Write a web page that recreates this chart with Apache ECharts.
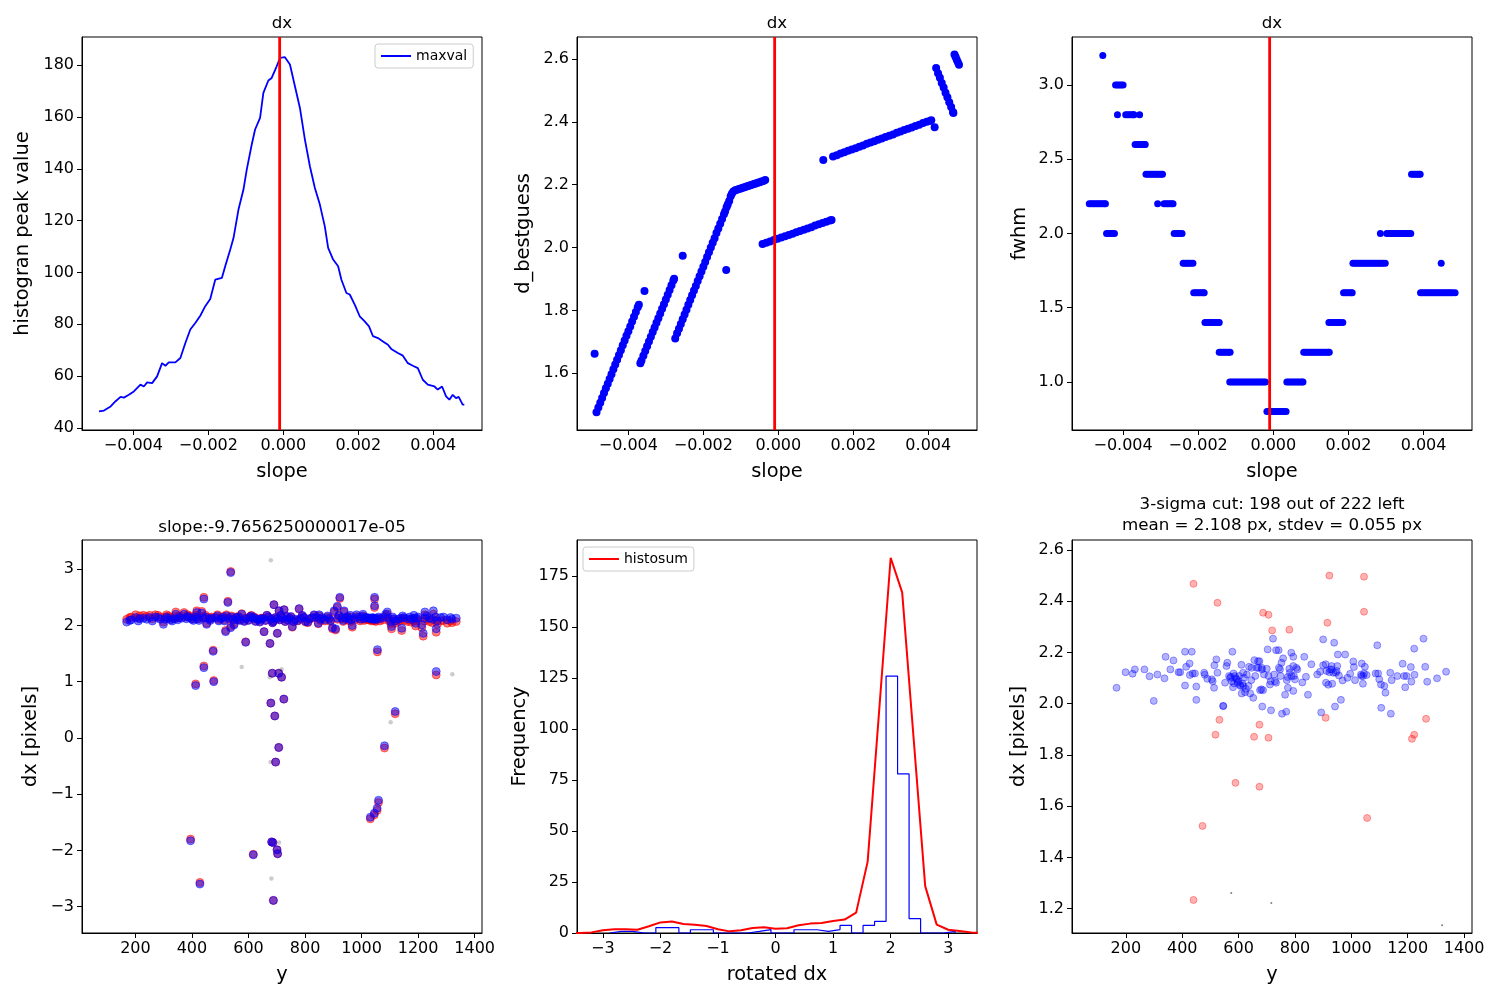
<!DOCTYPE html>
<html>
<head>
<meta charset="utf-8" />
<title>dx slope scan</title>
<script src="https://cdn.jsdelivr.net/npm/echarts@6.0.0/dist/echarts.min.js"></script>
<style>
  body { margin: 0; background: #fff; }
  #main { width: 1500px; height: 1000px; }
</style>
</head>
<body>
<div id="main"></div>
<script>
// best slope (red vertical line, title of the dx plot)
const slopeBest = -9.7656250000017e-05;

// panel 1: histogram peak value vs slope
const peakSlope = [-0.004917, -0.004784, -0.004607, -0.004474, -0.004341, -0.004252, -0.00412, -0.003987, -0.00381, -0.003721,
  -0.003632, -0.003499, -0.003367, -0.003234, -0.003145, -0.003056, -0.002879, -0.002746, -0.002613, -0.002481,
  -0.002348, -0.002215, -0.002082, -0.001949, -0.001816, -0.001639, -0.00155, -0.001417, -0.001329, -0.001196,
  -0.001063, -0.000975, -0.000842, -0.000753, -0.00062, -0.000532, -0.000399, -0.00031, -0.000177, -0.000089,
  0.000044, 0.000177, 0.00031, 0.000443, 0.000576, 0.000709, 0.000842, 0.000975, 0.001107, 0.001196,
  0.001329, 0.001462, 0.00155, 0.001683, 0.001772, 0.001905, 0.002038, 0.002171, 0.002286, 0.002392,
  0.002525, 0.002658, 0.002791, 0.002879, 0.003056, 0.003189, 0.003322, 0.003455, 0.003588, 0.003721,
  0.003854, 0.004031, 0.00412, 0.004235, 0.004341, 0.00443, 0.004518, 0.004607, 0.004678, 0.004784, 0.004828];
const peakVal = [46.4, 46.7, 48.3, 50.3, 52.0, 51.7, 52.8, 54.1, 56.7, 56.0,
  57.6, 57.3, 59.9, 65.0, 64.0, 65.3, 65.3, 67.0, 72.8, 78.0,
  80.5, 83.3, 87.0, 89.8, 97.2, 97.9, 102.4, 108.8, 113.3, 124.3,
  132.0, 139.7, 149.4, 155.2, 159.7, 169.3, 174.1, 175.1, 179.6, 182.8,
  183.1, 180.3, 171.9, 163.5, 151.3, 141.0, 132.6, 126.2, 117.8, 109.5,
  105.0, 102.4, 97.2, 92.1, 91.5, 87.6, 83.1, 81.1, 79.2, 75.4,
  74.7, 73.4, 72.1, 70.5, 68.9, 67.9, 65.0, 64.0, 63.1, 58.6,
  56.7, 56.0, 54.8, 56.0, 52.2, 50.9, 52.8, 51.5, 52.0, 49.0, 49.0];

// panel 2: d_bestguess vs slope
const bestGuess = [
  [-0.0049, 1.662],
  [-0.00485, 1.476], [-0.0048, 1.491], [-0.00475, 1.506], [-0.0047, 1.521], [-0.00465, 1.537], [-0.0046, 1.552],
  [-0.00455, 1.567], [-0.0045, 1.582], [-0.00445, 1.597], [-0.0044, 1.613], [-0.00435, 1.628], [-0.0043, 1.643],
  [-0.00425, 1.658], [-0.0042, 1.673], [-0.00415, 1.689], [-0.0041, 1.704], [-0.00405, 1.719], [-0.004, 1.734],
  [-0.00395, 1.749], [-0.0039, 1.765], [-0.00385, 1.78], [-0.0038, 1.795], [-0.00375, 1.81], [-0.00372, 1.818],
  [-0.00357, 1.862],
  [-0.00368, 1.632], [-0.00365, 1.641], [-0.0036, 1.656], [-0.00355, 1.671], [-0.0035, 1.686], [-0.00345, 1.701],
  [-0.0034, 1.716], [-0.00335, 1.731], [-0.0033, 1.746], [-0.00325, 1.761], [-0.0032, 1.775], [-0.00315, 1.79],
  [-0.0031, 1.805], [-0.00305, 1.82], [-0.003, 1.835], [-0.00295, 1.85], [-0.0029, 1.865], [-0.00285, 1.88],
  [-0.0028, 1.895], [-0.00278, 1.901],
  [-0.00255, 1.974],
  [-0.00275, 1.711], [-0.0027, 1.727], [-0.00265, 1.742], [-0.0026, 1.757], [-0.00255, 1.772], [-0.0025, 1.787],
  [-0.00245, 1.802], [-0.0024, 1.818], [-0.00235, 1.833], [-0.0023, 1.848], [-0.00225, 1.863], [-0.0022, 1.878],
  [-0.00215, 1.894], [-0.0021, 1.909], [-0.00205, 1.924], [-0.002, 1.939], [-0.00195, 1.954], [-0.0019, 1.97],
  [-0.00185, 1.985], [-0.0018, 2.0], [-0.00175, 2.015], [-0.0017, 2.03], [-0.00165, 2.046], [-0.0016, 2.061],
  [-0.00155, 2.076], [-0.0015, 2.091], [-0.00145, 2.106], [-0.00142, 2.115], [-0.00138, 2.128], [-0.00135, 2.137],
  [-0.00131, 2.148], [-0.00127, 2.163], [-0.00124, 2.171], [-0.0012, 2.178],
  [-0.00115, 2.182], [-0.0011, 2.184], [-0.00105, 2.186], [-0.001, 2.188], [-0.00095, 2.19], [-0.0009, 2.192],
  [-0.00085, 2.194], [-0.0008, 2.196], [-0.00075, 2.198], [-0.0007, 2.2], [-0.00065, 2.202], [-0.0006, 2.204],
  [-0.00055, 2.206], [-0.0005, 2.208], [-0.00045, 2.21], [-0.0004, 2.212], [-0.00035, 2.215],
  [-0.00139, 1.929],
  [-0.00042, 2.011], [-0.00032, 2.015], [-0.00022, 2.019], [-0.00012, 2.024], [-0.00002, 2.028], [0.00008, 2.032],
  [0.00018, 2.036], [0.00028, 2.04], [0.00038, 2.044], [0.00048, 2.049], [0.00058, 2.053], [0.00068, 2.057],
  [0.00078, 2.061], [0.00088, 2.065], [0.00098, 2.07], [0.00108, 2.074], [0.00118, 2.078], [0.00128, 2.082],
  [0.00138, 2.086], [0.00142, 2.088],
  [0.0012, 2.279],
  [0.00146, 2.29], [0.00156, 2.294], [0.00166, 2.299], [0.00176, 2.303], [0.00186, 2.308], [0.00196, 2.312],
  [0.00206, 2.316], [0.00216, 2.321], [0.00226, 2.325], [0.00236, 2.33], [0.00246, 2.334], [0.00256, 2.338],
  [0.00266, 2.343], [0.00276, 2.347], [0.00286, 2.352], [0.00296, 2.356], [0.00306, 2.36], [0.00316, 2.365],
  [0.00326, 2.369], [0.00336, 2.374], [0.00346, 2.378], [0.00356, 2.382], [0.00366, 2.387], [0.00376, 2.391],
  [0.00386, 2.396], [0.00396, 2.4], [0.00404, 2.403], [0.00408, 2.405],
  [0.00417, 2.383],
  [0.00421, 2.571], [0.00426, 2.555], [0.00431, 2.54], [0.00436, 2.524], [0.00441, 2.509], [0.00446, 2.493],
  [0.00451, 2.478], [0.00456, 2.462], [0.00461, 2.447], [0.00466, 2.431], [0.00467, 2.428],
  [0.0047, 2.614], [0.00473, 2.606], [0.00476, 2.598], [0.00479, 2.59], [0.00482, 2.582]
];

// panel 3: fwhm vs slope, one row per fwhm level: [fwhm, slopes]
const fwhmRows = [
  [3.2, [-0.00454]],
  [3.0, [-0.0042, -0.00415, -0.0041, -0.00405, -0.004]],
  [2.8, [-0.00415, -0.00393, -0.00388, -0.00383, -0.00378, -0.00373, -0.00371, -0.00356]],
  [2.6, [-0.00368, -0.00363, -0.00358, -0.00353, -0.00348, -0.00343, -0.00341]],
  [2.4, [-0.00339, -0.00334, -0.00329, -0.00324, -0.00319, -0.00314, -0.00309, -0.00304, -0.00299, -0.00295,
         0.00368, 0.00373, 0.00378, 0.00383, 0.00388, 0.00391]],
  [2.2, [-0.0049, -0.00485, -0.0048, -0.00475, -0.0047, -0.00465, -0.0046, -0.00455, -0.0045, -0.00447,
         -0.00308, -0.00291, -0.00286, -0.00281, -0.00276, -0.00271, -0.00267]],
  [2.0, [-0.00444, -0.00439, -0.00434, -0.00429, -0.00423, -0.00264, -0.00259, -0.00254, -0.00249, -0.00243,
         0.00285, 0.00302, 0.00307, 0.00312, 0.00317, 0.00322, 0.00327, 0.00332, 0.00337, 0.00342, 0.00347,
         0.00352, 0.00357, 0.00362, 0.00366]],
  [1.8, [-0.0024, -0.00235, -0.0023, -0.00225, -0.0022, -0.00214,
         0.00212, 0.00217, 0.00222, 0.00227, 0.00232, 0.00237, 0.00242, 0.00247, 0.00252, 0.00257, 0.00262,
         0.00267, 0.00272, 0.00277, 0.00282, 0.00287, 0.00292, 0.00298, 0.00447]],
  [1.6, [-0.00212, -0.00207, -0.00202, -0.00197, -0.00192, -0.00187, -0.00184,
         0.00187, 0.00192, 0.00197, 0.00202, 0.00207, 0.0021,
         0.00392, 0.00397, 0.00402, 0.00407, 0.00412, 0.00417, 0.00422, 0.00427, 0.00432, 0.00437, 0.00442,
         0.00447, 0.00452, 0.00457, 0.00462, 0.00467, 0.00472, 0.00477, 0.00484]],
  [1.4, [-0.00182, -0.00177, -0.00172, -0.00167, -0.00162, -0.00157, -0.00152, -0.00147, -0.00144,
         0.00148, 0.00153, 0.00158, 0.00163, 0.00168, 0.00173, 0.00178, 0.00185]],
  [1.2, [-0.00144, -0.00139, -0.00134, -0.00129, -0.00124, -0.00119, -0.00115,
         0.00081, 0.00086, 0.00091, 0.00096, 0.00101, 0.00106, 0.00111, 0.00116, 0.00121, 0.00126, 0.00131,
         0.00136, 0.00141, 0.00146, 0.00149]],
  [1.0, [-0.00116, -0.00111, -0.00106, -0.00101, -0.00096, -0.00091, -0.00086, -0.00081, -0.00076, -0.00071,
         -0.00066, -0.00061, -0.00056, -0.00051, -0.00046, -0.00041, -0.00036, -0.00031, -0.00026, -0.00021,
         0.00036, 0.00041, 0.00046, 0.00051, 0.00056, 0.00061, 0.00066, 0.00071, 0.00076, 0.00079]],
  [0.8, [-0.00017, -0.00012, -0.00007, -0.00002, 0.00003, 0.00008, 0.00013, 0.00018, 0.00023, 0.00028, 0.00034]]
];

// panel 4: [y, dx raw (red), dx rotated (blue)]
const dxRows = [
  [169, 2.11, 2.06], [201, 2.19, 2.14], [228, 2.18, 2.13], [270, 2.19, 2.15], [288, 2.15, 2.11], [299, 2.06, 2.02],
  [317, 2.17, 2.13], [340, 2.16, 2.12], [343, 2.24, 2.20], [364, 2.16, 2.13], [372, 2.23, 2.20], [390, 2.17, 2.14],
  [413, 2.18, 2.15], [417, 2.26, 2.23], [435, 2.25, 2.22], [425, 2.12, 2.09], [452, 2.04, 2.02], [442, 2.50, 2.47],
  [527, 2.43, 2.41], [484, 2.15, 2.13], [502, 2.14, 2.12], [522, 2.19, 2.17], [519, 1.91, 1.89], [537, 1.98, 1.96],
  [549, 2.03, 2.01], [557, 2.15, 2.14], [576, 2.21, 2.20], [590, 1.71, 1.70], [475, 1.56, 1.54], [614, 2.14, 2.13],
  [637, 2.11, 2.10], [655, 1.89, 1.89], [676, 1.68, 1.68], [690, 2.37, 2.37], [687, 2.07, 2.07], [702, 1.86, 1.86],
  [708, 2.26, 2.26], [726, 2.28, 2.28], [720, 2.13, 2.13], [738, 2.10, 2.10], [755, 1.97, 1.98], [779, 2.29, 2.30],
  [785, 2.12, 2.13], [802, 2.06, 2.07], [832, 2.18, 2.19], [847, 2.03, 2.04], [861, 2.12, 2.14], [885, 2.11, 2.13],
  [897, 1.94, 1.96], [908, 1.92, 1.94], [903, 2.24, 2.26], [914, 2.32, 2.34], [923, 2.48, 2.50], [938, 2.24, 2.26],
  [944, 2.11, 2.13], [962, 2.07, 2.10], [967, 1.97, 2.00], [982, 2.16, 2.19], [1003, 2.13, 2.16], [1029, 2.10, 2.13],
  [1044, 2.10, 2.13], [1050, 2.07, 2.10], [1046, 2.47, 2.50], [1046, 2.32, 2.35], [1056, 1.53, 1.57], [1091, 2.20, 2.24],
  [1095, 2.09, 2.13], [1103, 2.03, 2.07], [1106, 1.94, 1.98], [1121, 2.04, 2.08], [1138, 2.09, 2.13], [1142, 1.91, 1.95],
  [1162, 2.07, 2.12], [1185, 2.13, 2.18], [1185, 2.08, 2.13], [1191, 1.99, 2.04], [1213, 1.96, 2.01], [1218, 1.81, 1.86],
  [1224, 2.19, 2.24], [1224, 2.08, 2.13], [1254, 2.20, 2.26], [1262, 2.09, 2.15], [1268, 2.02, 2.08], [1264, 1.88, 1.94],
  [1303, 2.04, 2.10], [1335, 2.07, 2.13],
  [590, 2.13, 2.12], [600, 2.10, 2.09], [620, 2.15, 2.14], [630, 2.12, 2.11], [645, 2.13, 2.12], [660, 2.09, 2.09],
  [670, 2.15, 2.15], [680, 2.11, 2.11], [695, 2.14, 2.14], [710, 2.10, 2.10], [745, 2.13, 2.13], [765, 2.10, 2.11],
  [1010, 2.09, 2.12], [1020, 2.11, 2.14], [1035, 2.08, 2.11], [1038, 2.11, 2.14], [560, 2.11, 2.10], [530, 2.14, 2.12],
  [460, 2.14, 2.12], [400, 2.14, 2.11], [870, 2.08, 2.10], [955, 2.09, 2.12],
  [185, 2.15, 2.10], [215, 2.17, 2.12], [250, 2.18, 2.14], [305, 2.15, 2.11], [325, 2.14, 2.10], [355, 2.17, 2.14],
  [380, 2.15, 2.12], [405, 2.12, 2.09], [440, 2.16, 2.13], [470, 2.15, 2.13], [495, 2.10, 2.08], [510, 2.16, 2.14],
  [545, 2.12, 2.10], [570, 2.10, 2.09], [605, 2.16, 2.15], [625, 2.08, 2.07], [650, 2.13, 2.12], [700, 2.12, 2.12],
  [730, 2.07, 2.07], [750, 2.15, 2.16], [775, 2.08, 2.09], [795, 2.14, 2.15], [815, 2.11, 2.12], [840, 2.14, 2.15],
  [855, 2.09, 2.11], [880, 2.15, 2.17], [915, 2.11, 2.13], [930, 2.12, 2.14], [950, 2.14, 2.16], [975, 2.10, 2.13],
  [990, 2.12, 2.15], [1015, 2.11, 2.14], [1025, 2.10, 2.13], [1040, 2.09, 2.12], [1060, 2.12, 2.15], [1075, 2.10, 2.14],
  [1110, 2.11, 2.15], [1130, 2.07, 2.11], [1150, 2.09, 2.14], [1175, 2.06, 2.11], [1200, 2.10, 2.15], [1240, 2.07, 2.13],
  [1280, 2.08, 2.14], [1320, 2.05, 2.11], [1042, 2.10, 2.13], [1047, 2.09, 2.12], [1052, 2.10, 2.13],
  [180, 2.14, 2.09], [210, 2.13, 2.08], [240, 2.16, 2.11], [260, 2.12, 2.08], [280, 2.18, 2.14], [310, 2.19, 2.15],
  [330, 2.12, 2.08], [350, 2.13, 2.10], [385, 2.19, 2.16], [420, 2.15, 2.12], [448, 2.18, 2.15], [465, 2.11, 2.09],
  [490, 2.19, 2.17], [515, 2.10, 2.08], [540, 2.17, 2.15], [565, 2.16, 2.15], [585, 2.08, 2.07], [610, 2.18, 2.17],
  [640, 2.07, 2.06], [665, 2.18, 2.18], [685, 2.05, 2.05], [715, 2.18, 2.18], [735, 2.16, 2.16], [760, 2.07, 2.07],
  [790, 2.17, 2.18], [810, 2.05, 2.06], [825, 2.13, 2.14], [850, 2.17, 2.19], [890, 2.07, 2.09], [920, 2.16, 2.18],
  [935, 2.07, 2.09], [960, 2.15, 2.18], [995, 2.08, 2.11], [1005, 2.17, 2.20], [1065, 2.08, 2.12], [1085, 2.16, 2.20],
  [1115, 2.08, 2.12], [1145, 2.13, 2.17], [1170, 2.10, 2.15], [1195, 2.08, 2.13], [1230, 2.11, 2.17], [1250, 2.05, 2.11],
  [1290, 2.09, 2.15], [1315, 2.08, 2.14],
  [537, 2.96, 2.94], [442, 1.28, 1.25], [413, 0.96, 0.93], [477, 1.02, 1.00], [684, 1.15, 1.15], [707, 1.15, 1.15],
  [717, 1.08, 1.08], [679, 0.62, 0.62], [725, 0.69, 0.69], [693, 0.39, 0.39], [1119, 0.43, 0.47], [1081, -0.18, -0.14],
  [707, -0.17, -0.17], [696, -0.43, -0.43], [1060, -1.15, -1.11], [1055, -1.29, -1.25], [1045, -1.37, -1.34],
  [1031, -1.44, -1.41], [1264, 1.12, 1.18], [395, -1.80, -1.83], [686, -1.86, -1.86], [682, -1.85, -1.85],
  [701, -1.99, -1.99], [703, -2.06, -2.06], [617, -2.07, -2.08], [428, -2.57, -2.60], [688, -2.89, -2.89]
];
const dxOther = [[679, 3.16], [576, 1.26], [717, 1.22], [675, 1.08], [1321, 1.13], [1103, 0.28], [678, -0.43], [708, -1.86], [681, -2.50]];

// panel 5: histogram of rotated dx (step) and histosum curve
const binEdges = [-2.88, -2.68, -2.48, -2.28, -2.08, -1.88, -1.68, -1.48, -1.28, -1.08, -0.88, -0.68, -0.48, -0.28, -0.08,
  0.12, 0.32, 0.52, 0.72, 0.92, 1.12, 1.32, 1.52, 1.72, 1.92, 2.12, 2.32, 2.52, 2.72, 2.92, 3.12];
const binCounts = [0.8, 0.8, 0, 0, 2.6, 2.6, 0, 1.6, 1.6, 0, 0, 0, 0.8, 1.7, 0,
  0, 1.6, 1.6, 0.8, 1.7, 3.7, 0, 3.7, 5.7, 126, 78, 7, 0, 0, 0.8];
const sumX = [-3.6, -3.4, -3.2, -3.0, -2.8, -2.6, -2.4, -2.2, -2.0, -1.8, -1.6, -1.4, -1.2, -1.0, -0.8, -0.6, -0.4, -0.2,
  0.0, 0.2, 0.4, 0.6, 0.8, 1.0, 1.2, 1.4, 1.6, 1.8, 2.0, 2.2, 2.4, 2.6, 2.8, 3.0, 3.2, 3.4, 3.6];
const sumY = [0, 0, 0.3, 1.3, 1.8, 1.8, 1.6, 3.3, 5.2, 5.6, 4.4, 4.1, 3.4, 1.8, 0.8, 1.3, 2.5, 2.8,
  2.1, 2.3, 3.8, 4.6, 4.9, 5.9, 6.6, 10, 35, 109, 184, 167, 95, 23, 4.1, 1.6, 1.0, 0.3, 0];

// panel 6: 3-sigma cut
const keptPts = [
  [167, 2.062], [199, 2.123], [224, 2.117], [232, 2.134], [266, 2.134], [284, 2.107], [299, 2.011], [312, 2.114], [337, 2.099], [341, 2.183],
  [358, 2.134], [369, 2.169], [387, 2.123], [393, 2.123], [410, 2.203], [410, 2.071], [414, 2.144], [426, 2.157], [427, 2.112], [434, 2.203],
  [437, 2.118], [445, 2.118], [450, 2.067], [450, 2.015], [478, 2.121], [480, 2.113], [489, 2.097], [505, 2.095], [508, 2.088], [514, 2.150],
  [513, 2.062], [521, 2.173], [525, 2.121], [545, 1.991], [546, 1.991], [552, 2.082], [557, 2.147], [560, 2.160], [566, 2.108], [573, 2.105],
  [578, 2.203], [580, 2.064], [582, 2.118], [587, 2.108], [593, 2.095], [597, 2.082], [602, 2.108], [605, 2.073], [610, 2.152], [611, 2.040],
  [616, 2.121], [617, 2.069], [623, 2.045], [629, 2.114], [637, 2.144], [641, 2.040], [645, 2.092], [652, 2.023], [656, 2.170], [659, 2.108],
  [669, 2.166], [670, 2.140], [674, 2.166], [676, 2.053], [681, 2.056], [683, 2.134], [684, 1.989], [687, 2.053], [690, 2.114], [700, 2.136],
  [703, 2.212], [711, 2.075], [715, 1.974], [722, 2.254], [726, 2.114], [733, 2.209], [733, 2.082], [742, 2.209], [743, 2.140], [747, 2.134],
  [752, 2.160], [754, 1.961], [758, 2.177], [765, 2.035], [769, 1.969], [771, 2.092], [774, 2.104], [775, 2.062], [780, 2.136], [787, 2.199],
  [788, 2.108], [794, 2.183], [794, 2.050], [796, 2.108], [805, 2.140], [808, 2.134], [826, 2.083], [833, 2.183], [839, 2.105], [846, 2.035],
  [858, 2.154], [879, 2.114], [889, 2.125], [893, 1.966], [900, 2.251], [909, 2.154], [910, 2.082], [918, 2.074], [922, 2.123], [924, 2.134],
  [930, 2.147], [932, 2.078], [936, 2.121], [939, 2.238], [942, 1.989], [945, 2.121], [950, 2.147], [952, 2.192], [956, 2.110], [963, 2.015],
  [969, 2.091], [978, 2.192], [986, 2.101], [996, 2.117], [1007, 2.165], [1009, 2.143], [1013, 2.092], [1034, 2.114], [1037, 2.157], [1041, 2.078],
  [1042, 2.108], [1048, 2.144], [1054, 2.112], [1086, 2.118], [1092, 2.228], [1095, 2.118], [1099, 2.095], [1105, 2.075], [1106, 1.984], [1117, 2.069],
  [1121, 2.043], [1138, 2.121], [1140, 1.961], [1143, 2.092], [1163, 2.108], [1182, 2.156], [1187, 2.108], [1191, 2.064], [1196, 2.108], [1211, 2.143],
  [1213, 2.086], [1223, 2.215], [1224, 2.113], [1256, 2.254], [1262, 2.144], [1269, 2.086], [1304, 2.099], [1336, 2.125],
  [570, 2.101], [576, 2.088], [584, 2.079], [591, 2.099], [599, 2.088], [607, 2.069], [614, 2.079], [619, 2.101], [626, 2.058], [635, 2.069],
  [646, 2.140], [664, 2.140], [682, 2.140], [706, 2.108], [714, 2.088], [729, 2.088], [749, 2.108], [782, 2.121], [800, 2.095], [794, 2.147],
  [900, 2.150], [912, 2.128], [1036, 2.108], [1045, 2.118], [930, 2.134], [948, 2.128]
];
const rejectedPts = [
  [440, 2.468], [525, 2.394], [687, 2.355], [706, 2.347], [719, 2.286], [780, 2.289], [922, 2.500], [1045, 2.496],
  [1045, 2.359], [915, 2.316], [909, 1.945], [532, 1.937], [518, 1.879], [655, 1.871], [674, 1.918], [706, 1.867],
  [1265, 1.941], [1223, 1.879], [1215, 1.863], [589, 1.691], [674, 1.676], [1056, 1.554], [472, 1.523], [440, 1.234]
];
const strayPts = [[574, 1.261], [716, 1.222], [1322, 1.135]];

// tick positions
const slopeTicks = [-0.004, -0.002, 0, 0.002, 0.004];
const yTicks = [200, 400, 600, 800, 1000, 1200, 1400];

const FONT = 'DejaVu Sans';
const minus = s => String(s).replace('-', '\u2212');

function axis(gi, min, max, ticks, digits, name, gap) {
  return {
    type: 'value', gridIndex: gi, min: min, max: max,
    name: name, nameLocation: 'middle', nameGap: gap,
    nameTextStyle: { fontFamily: FONT, fontSize: 19.4, color: '#000' },
    axisLine: { show: true, onZero: false, lineStyle: { color: '#000', width: 1 } },
    axisTick: { show: true, length: 5, customValues: ticks, lineStyle: { color: '#000', width: 1 } },
    axisLabel: {
      customValues: ticks, fontFamily: FONT, fontSize: 16, color: '#000', margin: 8,
      formatter: v => minus(Number(v).toFixed(digits))
    },
    splitLine: { show: false }
  };
}

const lefts = [82, 577, 1072];
const tops = [37, 540];
const grids = [];
for (let r = 0; r < 2; r++) {
  for (let c = 0; c < 3; c++) {
    grids.push({ left: lefts[c], top: tops[r], width: 400, height: 393,
      show: true, borderColor: '#000', borderWidth: 1, backgroundColor: 'transparent' });
  }
}

// vertical red line at the best slope, spanning the full y range of a panel
function bestLine(i, yMin, yMax) {
  return {
    name: 'best' + i, type: 'line', xAxisIndex: i, yAxisIndex: i, silent: true,
    data: [[slopeBest, yMin], [slopeBest, yMax]], symbol: 'none',
    lineStyle: { color: '#ff0000', width: 2.8 }, itemStyle: { color: '#ff0000' }, z: 5
  };
}

// step outline of the histogram
const histStep = [[binEdges[0], 0]];
binCounts.forEach((c, i) => {
  histStep.push([binEdges[i], c]);
  histStep.push([binEdges[i + 1], c]);
});
histStep.push([binEdges[binEdges.length - 1], 0]);

const fwhmPts = [];
fwhmRows.forEach(row => row[1].forEach(s => fwhmPts.push([s, row[0]])));

const titleStyle = { fontFamily: FONT, fontSize: 16.7, fontWeight: 'normal', color: '#000', lineHeight: 21 };
const legendBox = {
  orient: 'vertical', backgroundColor: '#fff', borderColor: '#cccccc', borderWidth: 1, borderRadius: 3,
  padding: [5, 6], itemWidth: 30, itemHeight: 2, icon: 'rect',
  textStyle: { fontFamily: FONT, fontSize: 14, color: '#000' }
};

const chart = echarts.init(document.getElementById('main'));
chart.setOption({
  animation: false,
  backgroundColor: '#fff',
  title: [
    { text: 'dx', left: 282, top: 13, textAlign: 'center', padding: 0, textStyle: titleStyle },
    { text: 'dx', left: 777, top: 13, textAlign: 'center', padding: 0, textStyle: titleStyle },
    { text: 'dx', left: 1272, top: 13, textAlign: 'center', padding: 0, textStyle: titleStyle },
    { text: 'slope:-9.7656250000017e-05', left: 282, top: 517, textAlign: 'center', padding: 0, textStyle: titleStyle },
    { text: '3-sigma cut: 198 out of 222 left\nmean = 2.108 px, stdev = 0.055 px', left: 1272, top: 494,
      textAlign: 'center', padding: 0, textStyle: titleStyle }
  ],
  legend: [
    Object.assign({ data: ['maxval'], left: 375, top: 44 }, legendBox),
    Object.assign({ data: ['histosum'], left: 583, top: 547 }, legendBox)
  ],
  grid: grids,
  xAxis: [
    axis(0, -0.00537, 0.0053, slopeTicks, 3, 'slope', 32),
    axis(1, -0.00537, 0.0053, slopeTicks, 3, 'slope', 32),
    axis(2, -0.00536, 0.00529, slopeTicks, 3, 'slope', 32),
    axis(3, 11, 1426, yTicks, 0, 'y', 32),
    axis(4, -3.45, 3.5, [-3, -2, -1, 0, 1, 2, 3], 0, 'rotated dx', 32),
    axis(5, 9, 1428, yTicks, 0, 'y', 32)
  ],
  yAxis: [
    axis(0, 39.2, 190.9, [40, 60, 80, 100, 120, 140, 160, 180], 0, 'histogran peak value', 50),
    axis(1, 1.4195, 2.67, [1.6, 1.8, 2.0, 2.2, 2.4, 2.6], 1, 'd_bestguess', 44),
    axis(2, 0.676, 3.324, [1.0, 1.5, 2.0, 2.5, 3.0], 1, 'fwhm', 43),
    axis(3, -3.47, 3.52, [-3, -2, -1, 0, 1, 2, 3], 0, 'dx [pixels]', 42),
    axis(4, 0, 192.7, [0, 25, 50, 75, 100, 125, 150, 175], 0, 'Frequency', 48),
    axis(5, 1.105, 2.639, [1.2, 1.4, 1.6, 1.8, 2.0, 2.2, 2.4, 2.6], 1, 'dx [pixels]', 44)
  ],
  series: [
    {
      name: 'maxval', type: 'line', xAxisIndex: 0, yAxisIndex: 0,
      data: peakSlope.map((s, i) => [s, peakVal[i]]),
      showSymbol: false, symbol: 'none',
      lineStyle: { color: '#0000ff', width: 1.8 }, itemStyle: { color: '#0000ff' }
    },
    bestLine(0, 39.2, 190.9),
    {
      name: 'd_bestguess', type: 'scatter', xAxisIndex: 1, yAxisIndex: 1,
      data: bestGuess, symbolSize: 8, itemStyle: { color: '#0000ff', opacity: 1 }
    },
    bestLine(1, 1.4195, 2.67),
    {
      name: 'fwhm', type: 'scatter', xAxisIndex: 2, yAxisIndex: 2,
      data: fwhmPts, symbolSize: 7, itemStyle: { color: '#0000ff', opacity: 1 }
    },
    bestLine(2, 0.676, 3.324),
    {
      name: 'dx raw', type: 'scatter', xAxisIndex: 3, yAxisIndex: 3,
      data: dxRows.map(r => [r[0], r[1]]), symbolSize: 8,
      itemStyle: { color: 'rgba(255,0,0,0.5)', borderColor: 'rgba(255,0,0,0.5)', borderWidth: 1, opacity: 1 }
    },
    {
      name: 'dx rotated', type: 'scatter', xAxisIndex: 3, yAxisIndex: 3,
      data: dxRows.map(r => [r[0], r[2]]), symbolSize: 8,
      itemStyle: { color: 'rgba(0,0,255,0.5)', borderColor: 'rgba(0,0,255,0.5)', borderWidth: 1, opacity: 1 }
    },
    {
      name: 'dx other', type: 'scatter', xAxisIndex: 3, yAxisIndex: 3,
      data: dxOther, symbolSize: 4.5, itemStyle: { color: 'rgba(0,0,0,0.2)', opacity: 1 }
    },
    {
      name: 'hist', type: 'line', xAxisIndex: 4, yAxisIndex: 4,
      data: histStep, showSymbol: false, symbol: 'none',
      lineStyle: { color: '#0000ff', width: 1.2 }, itemStyle: { color: '#0000ff' }
    },
    {
      name: 'histosum', type: 'line', xAxisIndex: 4, yAxisIndex: 4,
      data: sumX.map((x, i) => [x, sumY[i]]), showSymbol: false, symbol: 'none',
      lineStyle: { color: '#ff0000', width: 2 }, itemStyle: { color: '#ff0000' }
    },
    {
      name: 'kept', type: 'scatter', xAxisIndex: 5, yAxisIndex: 5,
      data: keptPts, symbolSize: 7,
      itemStyle: { color: 'rgba(0,0,255,0.3)', borderColor: 'rgba(0,0,255,0.35)', borderWidth: 1, opacity: 1 }
    },
    {
      name: 'rejected', type: 'scatter', xAxisIndex: 5, yAxisIndex: 5,
      data: rejectedPts, symbolSize: 7,
      itemStyle: { color: 'rgba(255,0,0,0.3)', borderColor: 'rgba(255,0,0,0.35)', borderWidth: 1, opacity: 1 }
    },
    {
      name: 'stray', type: 'scatter', xAxisIndex: 5, yAxisIndex: 5,
      data: strayPts, symbolSize: 2, itemStyle: { color: 'rgba(0,0,0,0.5)', opacity: 1 }
    }
  ]
});
</script>
</body>
</html>
